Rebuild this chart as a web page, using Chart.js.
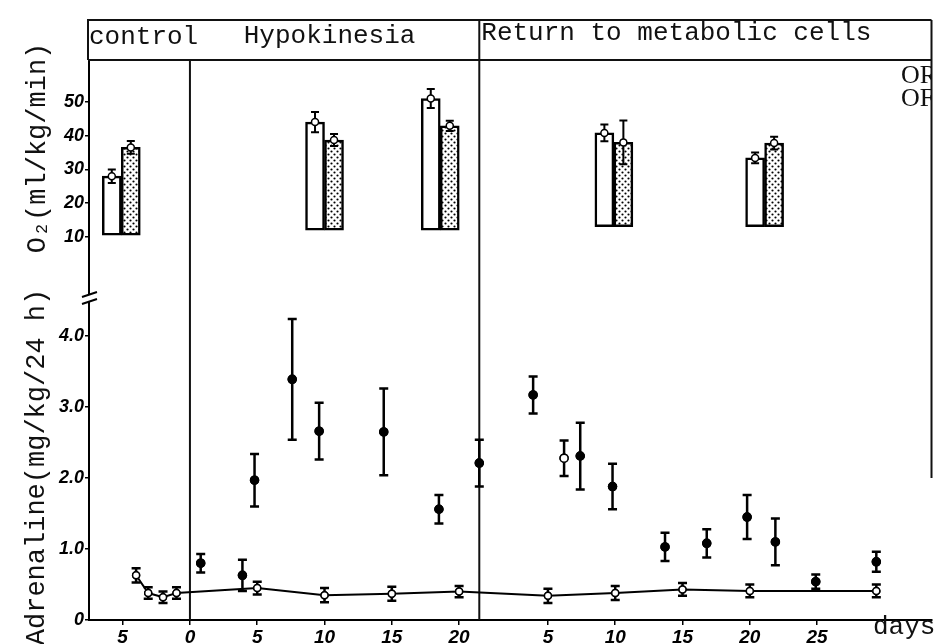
<!DOCTYPE html>
<html>
<head>
<meta charset="utf-8">
<script src="https://cdn.jsdelivr.net/npm/chart.js@4.4.1/dist/chart.umd.min.js"></script>
<style>
  html, body { margin: 0; padding: 0; background: #fff; }
  canvas { display: block; }
</style>
</head>
<body>
<canvas id="chart" width="937" height="644"></canvas>
<script>
// common day axis: day 0 = first day of hypokinesia,
// recovery days are placed after RETURN_START
const RETURN_START = 21.6
const periodBreaks = [0, 21.5]

// top panel - O2 uptake (ml/kg/min), open bar + stippled bar per session
const o2Days = [-5.1, 10, 18.6, 31.5, 42.7]
const o2Base = [10.5, 12, 12, 13, 13]
const o2Open = [28, 44, 51, 40.8, 33.4]
const o2OpenErr = [2, 3, 2.8, 2.5, 1.6]
const o2Dot = [36.5, 38.7, 42.9, 38, 37.8]
const o2DotErr = [1.9, 1.8, 1.5, 6.5, 1.9]

// bottom panel - adrenaline, control animals (open circles, joined)
const ctrlDays = [-4, -3.1, -2, -1, 5, 10, 15, 20]
const ctrlVals = [0.63, 0.38, 0.32, 0.38, 0.45, 0.35, 0.37, 0.40]
const ctrlErr = [0.1, 0.08, 0.08, 0.08, 0.09, 0.1, 0.1, 0.08]
const ctrlRetDays = [5, 10, 15, 20, 29.4]
const ctrlRetVals = [0.34, 0.38, 0.43, 0.41, 0.41]
const ctrlRetErr = [0.1, 0.1, 0.09, 0.09, 0.09]

// bottom panel - adrenaline, hypokinetic animals (filled circles)
const hypoDays = [0.8, 3.9, 4.8, 7.6, 9.6, 14.4, 18.5]
const hypoVals = [0.80, 0.63, 1.97, 3.39, 2.66, 2.65, 1.56]
const hypoErr = [0.13, 0.22, 0.37, 0.85, 0.4, 0.61, 0.2]
const hypoRetDays = [-0.1, 3.9, 6.2, 7.4, 9.8, 13.7, 16.8, 19.8, 21.9, 24.9, 29.4]
const hypoRetVals = [2.21, 3.17, 2.28, 2.31, 1.88, 1.03, 1.08, 1.45, 1.10, 0.54, 0.82]
const hypoRetErr = [0.33, 0.26, 0.25, 0.47, 0.32, 0.2, 0.2, 0.31, 0.33, 0.1, 0.14]
const hypoRetHollow = [false, false, true, false, false, false, false, false, false, false, false]

// tick labels
const hypoTickDays = [-5, 0, 5, 10, 15, 20]
const retTickDays = [5, 10, 15, 20, 25]
const xTickLabels = ['5', '0', '5', '10', '15', '20', '5', '10', '15', '20', '25']
const adrTicks = [0, 1, 2, 3, 4]
const adrTickLabels = ['0', '1.0', '2.0', '3.0', '4.0']
const o2Ticks = [10, 20, 30, 40, 50]

const BAND_TOP = 20
const MONO = '"Liberation Mono", "DejaVu Sans Mono", monospace'
const tickFont = { family: '"Liberation Sans", Arial, sans-serif', size: 18, style: 'italic', weight: 'bold' }

const stipple = () => {
  const c = document.createElement('canvas')
  c.width = 6
  c.height = 6
  const g = c.getContext('2d')
  g.fillStyle = '#fff'
  g.fillRect(0, 0, 6, 6)
  g.fillStyle = '#000'
  g.beginPath()
  g.arc(1.5, 1.5, 1.1, 0, Math.PI * 2)
  g.moveTo(5.6, 4.5)
  g.arc(4.5, 4.5, 1.1, 0, Math.PI * 2)
  g.fill()
  return g.createPattern(c, 'repeat')
}

const pts = (days, vals, shift) => days.map((d, i) => ({ x: d + shift, y: vals[i] }))

const errorBars = {
  id: 'errorBars',
  afterDatasetsDraw(chart) {
    const ctx = chart.ctx
    chart.data.datasets.forEach((ds, i) => {
      if (!ds.errs) return
      const meta = chart.getDatasetMeta(i)
      const yScale = chart.scales[meta.yAxisID]
      ctx.save()
      ctx.strokeStyle = '#000'
      ctx.lineWidth = ds.errWidth
      meta.data.forEach((el, j) => {
        const raw = ds.data[j].y
        const v = Array.isArray(raw) ? raw[1] : raw
        const e = ds.errs[j]
        const x = el.x
        const yTop = yScale.getPixelForValue(v + e)
        const yBot = yScale.getPixelForValue(v - e)
        const c = ds.capWidth / 2
        ctx.beginPath()
        ctx.moveTo(x, yTop); ctx.lineTo(x, yBot)
        ctx.moveTo(x - c, yTop); ctx.lineTo(x + c, yTop)
        ctx.moveTo(x - c, yBot); ctx.lineTo(x + c, yBot)
        ctx.stroke()
        if (Array.isArray(raw)) {
          // little open marker on top of each bar
          ctx.beginPath()
          ctx.arc(x, yScale.getPixelForValue(v), 3.5, 0, Math.PI * 2)
          ctx.fillStyle = '#fff'
          ctx.fill()
          ctx.lineWidth = 1.5
          ctx.stroke()
          ctx.lineWidth = ds.errWidth
        }
      })
      ctx.restore()
      if (meta.type === 'line') {
        meta.data.forEach(el => el.draw(ctx, chart.chartArea))
      }
    })
  }
}

const frame = {
  id: 'frame',
  beforeDatasetsDraw(chart) {
    const { ctx, chartArea: a, scales: { x } } = chart
    ctx.save()
    ctx.strokeStyle = '#111'
    ctx.lineWidth = 2
    ctx.beginPath()
    ctx.moveTo(a.left - 1, a.top); ctx.lineTo(a.left - 1, BAND_TOP); ctx.lineTo(a.right, BAND_TOP)
    ctx.moveTo(a.left - 1, a.top); ctx.lineTo(a.right, a.top)
    ctx.moveTo(a.right, BAND_TOP); ctx.lineTo(a.right, 478)
    periodBreaks.forEach((d, k) => {
      const px = x.getPixelForValue(d)
      ctx.moveTo(px, k === 0 ? a.top : BAND_TOP)
      ctx.lineTo(px, a.bottom)
    })
    ctx.stroke()

    ctx.fillStyle = '#111'
    ctx.font = '26px ' + MONO
    ctx.textBaseline = 'middle'
    ctx.textAlign = 'left'
    ctx.fillText('control', a.left, 37)
    ctx.fillText('Hypokinesia', x.getPixelForValue(4), 36)
    ctx.fillText('Return to metabolic cells', x.getPixelForValue(periodBreaks[1]) + 2, 33)
    ctx.restore()
  },
  afterDraw(chart) {
    const { ctx, chartArea: a } = chart
    const splitY = chart.scales.y.top
    ctx.save()
    // axis break
    ctx.fillStyle = '#fff'
    ctx.fillRect(a.left - 4, splitY - 3, 8, 7)
    ctx.strokeStyle = '#000'
    ctx.lineWidth = 2
    ctx.beginPath()
    ctx.moveTo(a.left - 7, splitY); ctx.lineTo(a.left + 8, splitY - 5)
    ctx.moveTo(a.left - 7, splitY + 7); ctx.lineTo(a.left + 8, splitY + 2)
    ctx.stroke()

    // axis titles
    ctx.fillStyle = '#111'
    ctx.font = '27px ' + MONO
    ctx.textAlign = 'center'
    ctx.textBaseline = 'alphabetic'
    ctx.translate(44, 467)
    ctx.rotate(-Math.PI / 2)
    ctx.fillText('Adrenaline(mg/kg/24 h)', 0, 0)
    ctx.rotate(Math.PI / 2)
    ctx.translate(1, 148 - 467)
    ctx.rotate(-Math.PI / 2)
    ctx.fillText('O\u2082(ml/kg/min)', 0, 0)
    ctx.restore()

    ctx.save()
    ctx.fillStyle = '#111'
    ctx.font = '26px ' + MONO
    ctx.textAlign = 'left'
    ctx.textBaseline = 'alphabetic'
    ctx.fillText('days', 873, 634)
    // cut-off legend at the right edge
    ctx.beginPath()
    ctx.rect(890, 60, a.right - 890, 60)
    ctx.clip()
    ctx.font = '26px "Liberation Serif", "DejaVu Serif", serif'
    ctx.fillText('OR', 901, 83)
    ctx.fillText('OF', 901, 106)
    ctx.restore()
  }
}

const axisGrid = { drawOnChartArea: false, drawTicks: true, tickLength: 4, color: '#000', lineWidth: 1.5 }
const axisBorder = { display: true, color: '#000', width: 2 }

new Chart(document.getElementById('chart'), {
  type: 'bar',
  data: {
    datasets: [
      {
        label: 'O2 open',
        yAxisID: 'yO2',
        stack: 'open',
        data: o2Days.map((d, i) => ({ x: d, y: [o2Base[i], o2Open[i]] })),
        backgroundColor: '#fff',
        borderColor: '#000',
        borderWidth: 2.5,
        borderSkipped: false,
        barThickness: 19,
        errs: o2OpenErr,
        errWidth: 2,
        capWidth: 8
      },
      {
        label: 'O2 stippled',
        yAxisID: 'yO2',
        stack: 'dot',
        data: o2Days.map((d, i) => ({ x: d, y: [o2Base[i], o2Dot[i]] })),
        backgroundColor: stipple(),
        borderColor: '#000',
        borderWidth: 2.5,
        borderSkipped: false,
        barThickness: 19,
        errs: o2DotErr,
        errWidth: 2,
        capWidth: 8
      },
      {
        type: 'line',
        label: 'control',
        yAxisID: 'y',
        data: pts(ctrlDays, ctrlVals, 0).concat(pts(ctrlRetDays, ctrlRetVals, RETURN_START)),
        borderColor: '#000',
        borderWidth: 2,
        tension: 0,
        pointRadius: 3.5,
        pointBackgroundColor: '#fff',
        pointBorderColor: '#000',
        pointBorderWidth: 1.5,
        errs: ctrlErr.concat(ctrlRetErr),
        errWidth: 2.5,
        capWidth: 9
      },
      {
        type: 'line',
        label: 'hypokinesia',
        yAxisID: 'y',
        showLine: false,
        data: pts(hypoDays, hypoVals, 0).concat(pts(hypoRetDays, hypoRetVals, RETURN_START)),
        pointRadius: 4,
        pointBackgroundColor: hypoDays.map(() => '#000').concat(hypoRetHollow.map(h => h ? '#fff' : '#000')),
        pointBorderColor: '#000',
        pointBorderWidth: 1.5,
        errs: hypoErr.concat(hypoRetErr),
        errWidth: 2.5,
        capWidth: 9
      }
    ]
  },
  options: {
    responsive: false,
    animation: false,
    layout: { padding: { top: 60, right: 2, left: 0, bottom: 0 } },
    plugins: {
      legend: { display: false },
      tooltip: { enabled: false }
    },
    scales: {
      x: {
        type: 'linear',
        min: -7.5,
        max: 55.1,
        offset: false,
        afterBuildTicks: s => {
          s.ticks = hypoTickDays.map(v => ({ value: v }))
            .concat(retTickDays.map(v => ({ value: v + RETURN_START })))
        },
        afterFit: s => { s.height = 24 },
        ticks: {
          autoSkip: false,
          maxRotation: 0,
          minRotation: 0,
          padding: 1,
          color: '#000',
          font: { ...tickFont, size: 19 },
          callback: (v, i) => xTickLabels[i]
        },
        grid: { ...axisGrid, offset: false, tickLength: 5 },
        border: axisBorder
      },
      yO2: {
        type: 'linear',
        position: 'left',
        stack: 'left',
        stackWeight: 237,
        weight: 1,
        min: -7.8,
        max: 62.4,
        afterBuildTicks: s => { s.ticks = o2Ticks.map(v => ({ value: v })) },
        afterFit: s => { s.width = 89 },
        ticks: { padding: 1, color: '#000', font: tickFont, callback: v => String(v) },
        grid: axisGrid,
        border: axisBorder
      },
      y: {
        type: 'linear',
        position: 'left',
        stack: 'left',
        stackWeight: 323,
        weight: 0,
        min: 0,
        max: 4.55,
        afterBuildTicks: s => { s.ticks = adrTicks.map(v => ({ value: v })) },
        afterFit: s => { s.width = 89 },
        ticks: { padding: 1, color: '#000', font: tickFont, callback: (v, i) => adrTickLabels[i] },
        grid: axisGrid,
        border: axisBorder
      }
    }
  },
  plugins: [frame, errorBars]
})
</script>
</body>
</html>
